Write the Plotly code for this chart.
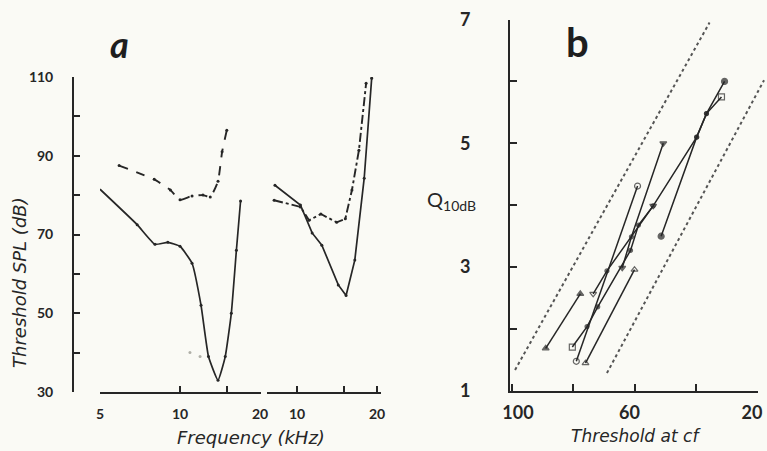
import math
import plotly.graph_objects as go

W, H = 767, 451

# ---------------- Panel a: tuning curves ----------------
# left pair (frequency kHz, threshold dB SPL)
a1_solid_f = [5.0, 6.9, 8.05, 9.0, 10.0, 11.1, 12.0, 12.8, 13.9, 14.8, 15.6, 16.3, 16.9]
a1_solid_db = [81.5, 72.5, 67.5, 68.0, 67.0, 62.7, 52.0, 39.0, 33.0, 39.0, 50.0, 66.0, 78.5]
a1_dash_f = [5.9, 8.0, 9.2, 10.0, 11.1, 12.2, 13.0, 13.9, 14.4, 15.0]
a1_dash_db = [87.5, 84.0, 81.3, 78.8, 79.8, 80.0, 79.5, 83.5, 91.0, 96.5]
a1_gray_f = [10.9, 11.9]
a1_gray_db = [40.0, 39.0]

# right pair
a2_solid_f = [8.26, 10.3, 11.4, 12.4, 14.3, 15.3, 16.5, 17.9, 19.1]
a2_solid_db = [82.5, 77.5, 70.4, 67.3, 57.2, 54.5, 63.5, 84.3, 109.7]
a2_dash_f = [8.2, 10.3, 11.1, 12.3, 14.1, 15.2, 16.1, 17.1, 18.2]
a2_dash_db = [78.7, 77.0, 73.6, 75.2, 73.1, 74.0, 81.3, 91.4, 108.4]

a_y_ticks = [30, 40, 50, 60, 70, 80, 90, 100, 110]
a_y_labels = ["30", "", "50", "", "70", "", "90", "", "110"]
a1_x_ticks = [5, 10, 15, 20]
a1_x_labels = ["5", "10", "", "20"]
a2_x_ticks = [10, 15, 20]
a2_x_labels = ["10", "", "20"]

# ---------------- Panel b: Q10dB vs threshold ----------------
b_bound1_x = [99.0, 35.5]
b_bound1_y = [1.34, 6.95]
b_bound2_x = [69.0, 17.7]
b_bound2_y = [1.29, 6.02]

b_series = [
    # (thresholds, Q values, end symbol)
    ([89.0, 77.7], [1.69, 2.57], "triangle-up"),
    ([79.0, 59.0], [1.48, 4.31], "circle-open"),
    ([76.0, 60.0], [1.45, 2.96], "triangle-up-open"),
    ([80.3, 75.5, 72.0, 61.3, 58.7, 53.9, 39.7, 36.5, 31.6],
     [1.71, 2.04, 2.36, 3.27, 3.68, 3.99, 5.10, 5.48, 5.75], "square-open"),
    ([64.0, 61.0, 50.6], [2.99, 3.49, 5.0], "triangle-down"),
    ([51.3, 39.7, 36.5, 30.6], [3.5, 5.1, 5.48, 6.0], "circle"),
    ([73.5, 69.0, 53.9], [2.57, 2.94, 3.99], "triangle-down-open"),
]
b_y_ticks = [1, 2, 3, 4, 5, 6, 7]
b_y_labels = ["1", "", "3", "", "5", "", "7"]
b_x_ticks = [100, 80, 60, 40, 20]
b_x_labels = ["\u00a0\u00a0\u00a0\u00a0\u00a0100", "", "60", "", "20"]

INK = "#262626"
BG = "#fafaf5"
FONT = "Lato"
TFONT = "DejaVu Sans"


def px_x(p):
    return p / W


def px_y(p):
    return 1 - p / H


fig = go.Figure()

# panel a left
fig.add_trace(go.Scatter(x=a1_solid_f, y=a1_solid_db, mode="lines+markers", xaxis="x", yaxis="y",
                         line=dict(color=INK, width=1.7, shape="spline", smoothing=0.4),
                         marker=dict(size=3, color=INK), cliponaxis=False))
fig.add_trace(go.Scatter(x=a1_dash_f, y=a1_dash_db, mode="lines+markers", xaxis="x", yaxis="y",
                         line=dict(color=INK, width=1.9, dash="dash", shape="spline", smoothing=0.4),
                         marker=dict(size=3, color=INK)))
fig.add_trace(go.Scatter(x=a1_gray_f, y=a1_gray_db, mode="markers", xaxis="x", yaxis="y",
                         marker=dict(size=3, color="#b0b0a8")))
# panel a right
fig.add_trace(go.Scatter(x=a2_solid_f, y=a2_solid_db, mode="lines+markers", xaxis="x2", yaxis="y",
                         line=dict(color=INK, width=1.7),
                         marker=dict(size=3, color=INK)))
fig.add_trace(go.Scatter(x=a2_dash_f, y=a2_dash_db, mode="lines+markers", xaxis="x2", yaxis="y",
                         line=dict(color=INK, width=1.9, dash="dashdot"),
                         marker=dict(size=3, color=INK)))

# panel b: dotted band on a wider hidden x axis (runs past the 20 tick)
for bx, by in [(b_bound1_x, b_bound1_y), (b_bound2_x, b_bound2_y)]:
    fig.add_trace(go.Scatter(x=bx, y=by, mode="lines", xaxis="x4", yaxis="y3",
                             line=dict(color="#555", width=2, dash="dot")))
for sx, sy, sym in b_series:
    n = len(sx)
    syms = [sym if i in (0, n - 1) else "circle" for i in range(n)]
    sizes = [6 if i in (0, n - 1) else 4 for i in range(n)]
    fig.add_trace(go.Scatter(x=sx, y=sy, mode="lines+markers", xaxis="x3", yaxis="y3",
                             line=dict(color=INK, width=1.5), cliponaxis=False,
                             marker=dict(size=sizes, symbol=syms, color=INK,
                                         line=dict(color=INK, width=1.2))))

# axis geometry (pixel -> data)
a_oct = 80.0
x1_hi = 5 * 2 ** ((261 - 100) / a_oct)
x2_lo = 10 * 2 ** ((267 - 297) / a_oct)
x2_hi = 10 * 2 ** ((381 - 297) / a_oct)
b_ppd = (757 - 512) / 80.0
x3_lo = 100 + (512 - 510) / b_ppd
x4_hi = 20 - (767 - 757) / b_ppd

a_tickfont = dict(family=FONT, size=14, color=INK, weight="bold")
b_tickfont = dict(family=FONT, size=18, color=INK, weight="bold")

common = dict(showgrid=False, zeroline=False, automargin=False, tickcolor=INK, tickwidth=1.5,
              ticklabeloverflow="allow")

fig.update_layout(
    width=W, height=H, margin=dict(l=0, r=0, t=0, b=0, autoexpand=False),
    paper_bgcolor=BG, plot_bgcolor="rgba(0,0,0,0)", showlegend=False,
    xaxis=dict(domain=[px_x(100), px_x(261)], type="log",
               range=[math.log10(5), math.log10(x1_hi)],
               tickvals=a1_x_ticks, ticktext=a1_x_labels, ticks="inside", ticklen=6,
               showline=True, linecolor=INK, linewidth=1.7, anchor="y",
               tickfont=a_tickfont, ticklabelstandoff=8, **common),
    xaxis2=dict(domain=[px_x(267), px_x(381)], type="log",
                range=[math.log10(x2_lo), math.log10(x2_hi)],
                tickvals=a2_x_ticks, ticktext=a2_x_labels, ticks="inside", ticklen=6,
                showline=True, linecolor=INK, linewidth=1.7, anchor="y",
                tickfont=a_tickfont, ticklabelstandoff=8, **common),
    yaxis=dict(domain=[px_y(392), px_y(77)], range=[30, 110],
               tickvals=a_y_ticks, ticktext=a_y_labels, ticks="inside", ticklen=6,
               showline=True, linecolor=INK, linewidth=1.9, anchor="free", position=px_x(73),
               tickfont=a_tickfont, ticklabelstandoff=16, **common),
    xaxis3=dict(domain=[px_x(510), px_x(758)], range=[x3_lo, 20 - 1 / b_ppd],
                tickvals=b_x_ticks, ticktext=b_x_labels, ticks="inside", ticklen=7,
                showline=True, linecolor=INK, linewidth=1.7, ticklabelshift=5,
                anchor="y3", tickfont=b_tickfont, ticklabelstandoff=5, **common),
    xaxis4=dict(domain=[px_x(510), 1.0], range=[x3_lo, x4_hi], visible=False,
                anchor="y3", showgrid=False, zeroline=False),
    yaxis3=dict(domain=[px_y(391), px_y(19.5)], range=[1, 7],
                tickvals=b_y_ticks, ticktext=b_y_labels, ticks="inside", ticklen=7,
                showline=True, linecolor=INK, linewidth=1.9, anchor="x3",
                tickfont=b_tickfont, ticklabelstandoff=34, **common),
)

ann = [
    dict(text="<b><i>a</i></b>", x=px_x(119), y=px_y(44), font=dict(family=FONT, size=36, color="#1e1e1e"),
         xanchor="center", yanchor="middle"),
    dict(text="<b>b</b>", x=px_x(577), y=px_y(42), font=dict(family=FONT, size=40, color="#1e1e1e"),
         xanchor="center", yanchor="middle"),
    dict(text="<i>Threshold SPL (dB)</i>", x=px_x(19), y=px_y(283), textangle=-90,
         font=dict(family=TFONT, size=18, color=INK), xanchor="center", yanchor="middle"),
    dict(text="<i>Frequency (kHz)</i>", x=px_x(251), y=px_y(437),
         font=dict(family=TFONT, size=18, color=INK), xanchor="center", yanchor="middle"),
    dict(text="<i>Threshold at cf</i>", x=px_x(636), y=px_y(436),
         font=dict(family=TFONT, size=17, color=INK), xanchor="center", yanchor="middle"),
    dict(text="Q<sub>10dB</sub>", x=px_x(452), y=px_y(200),
         font=dict(family=FONT, size=20, color=INK), xanchor="center", yanchor="middle"),
]
for a in ann:
    fig.add_annotation(xref="paper", yref="paper", showarrow=False, **a)

fig.write_html("out.html")
